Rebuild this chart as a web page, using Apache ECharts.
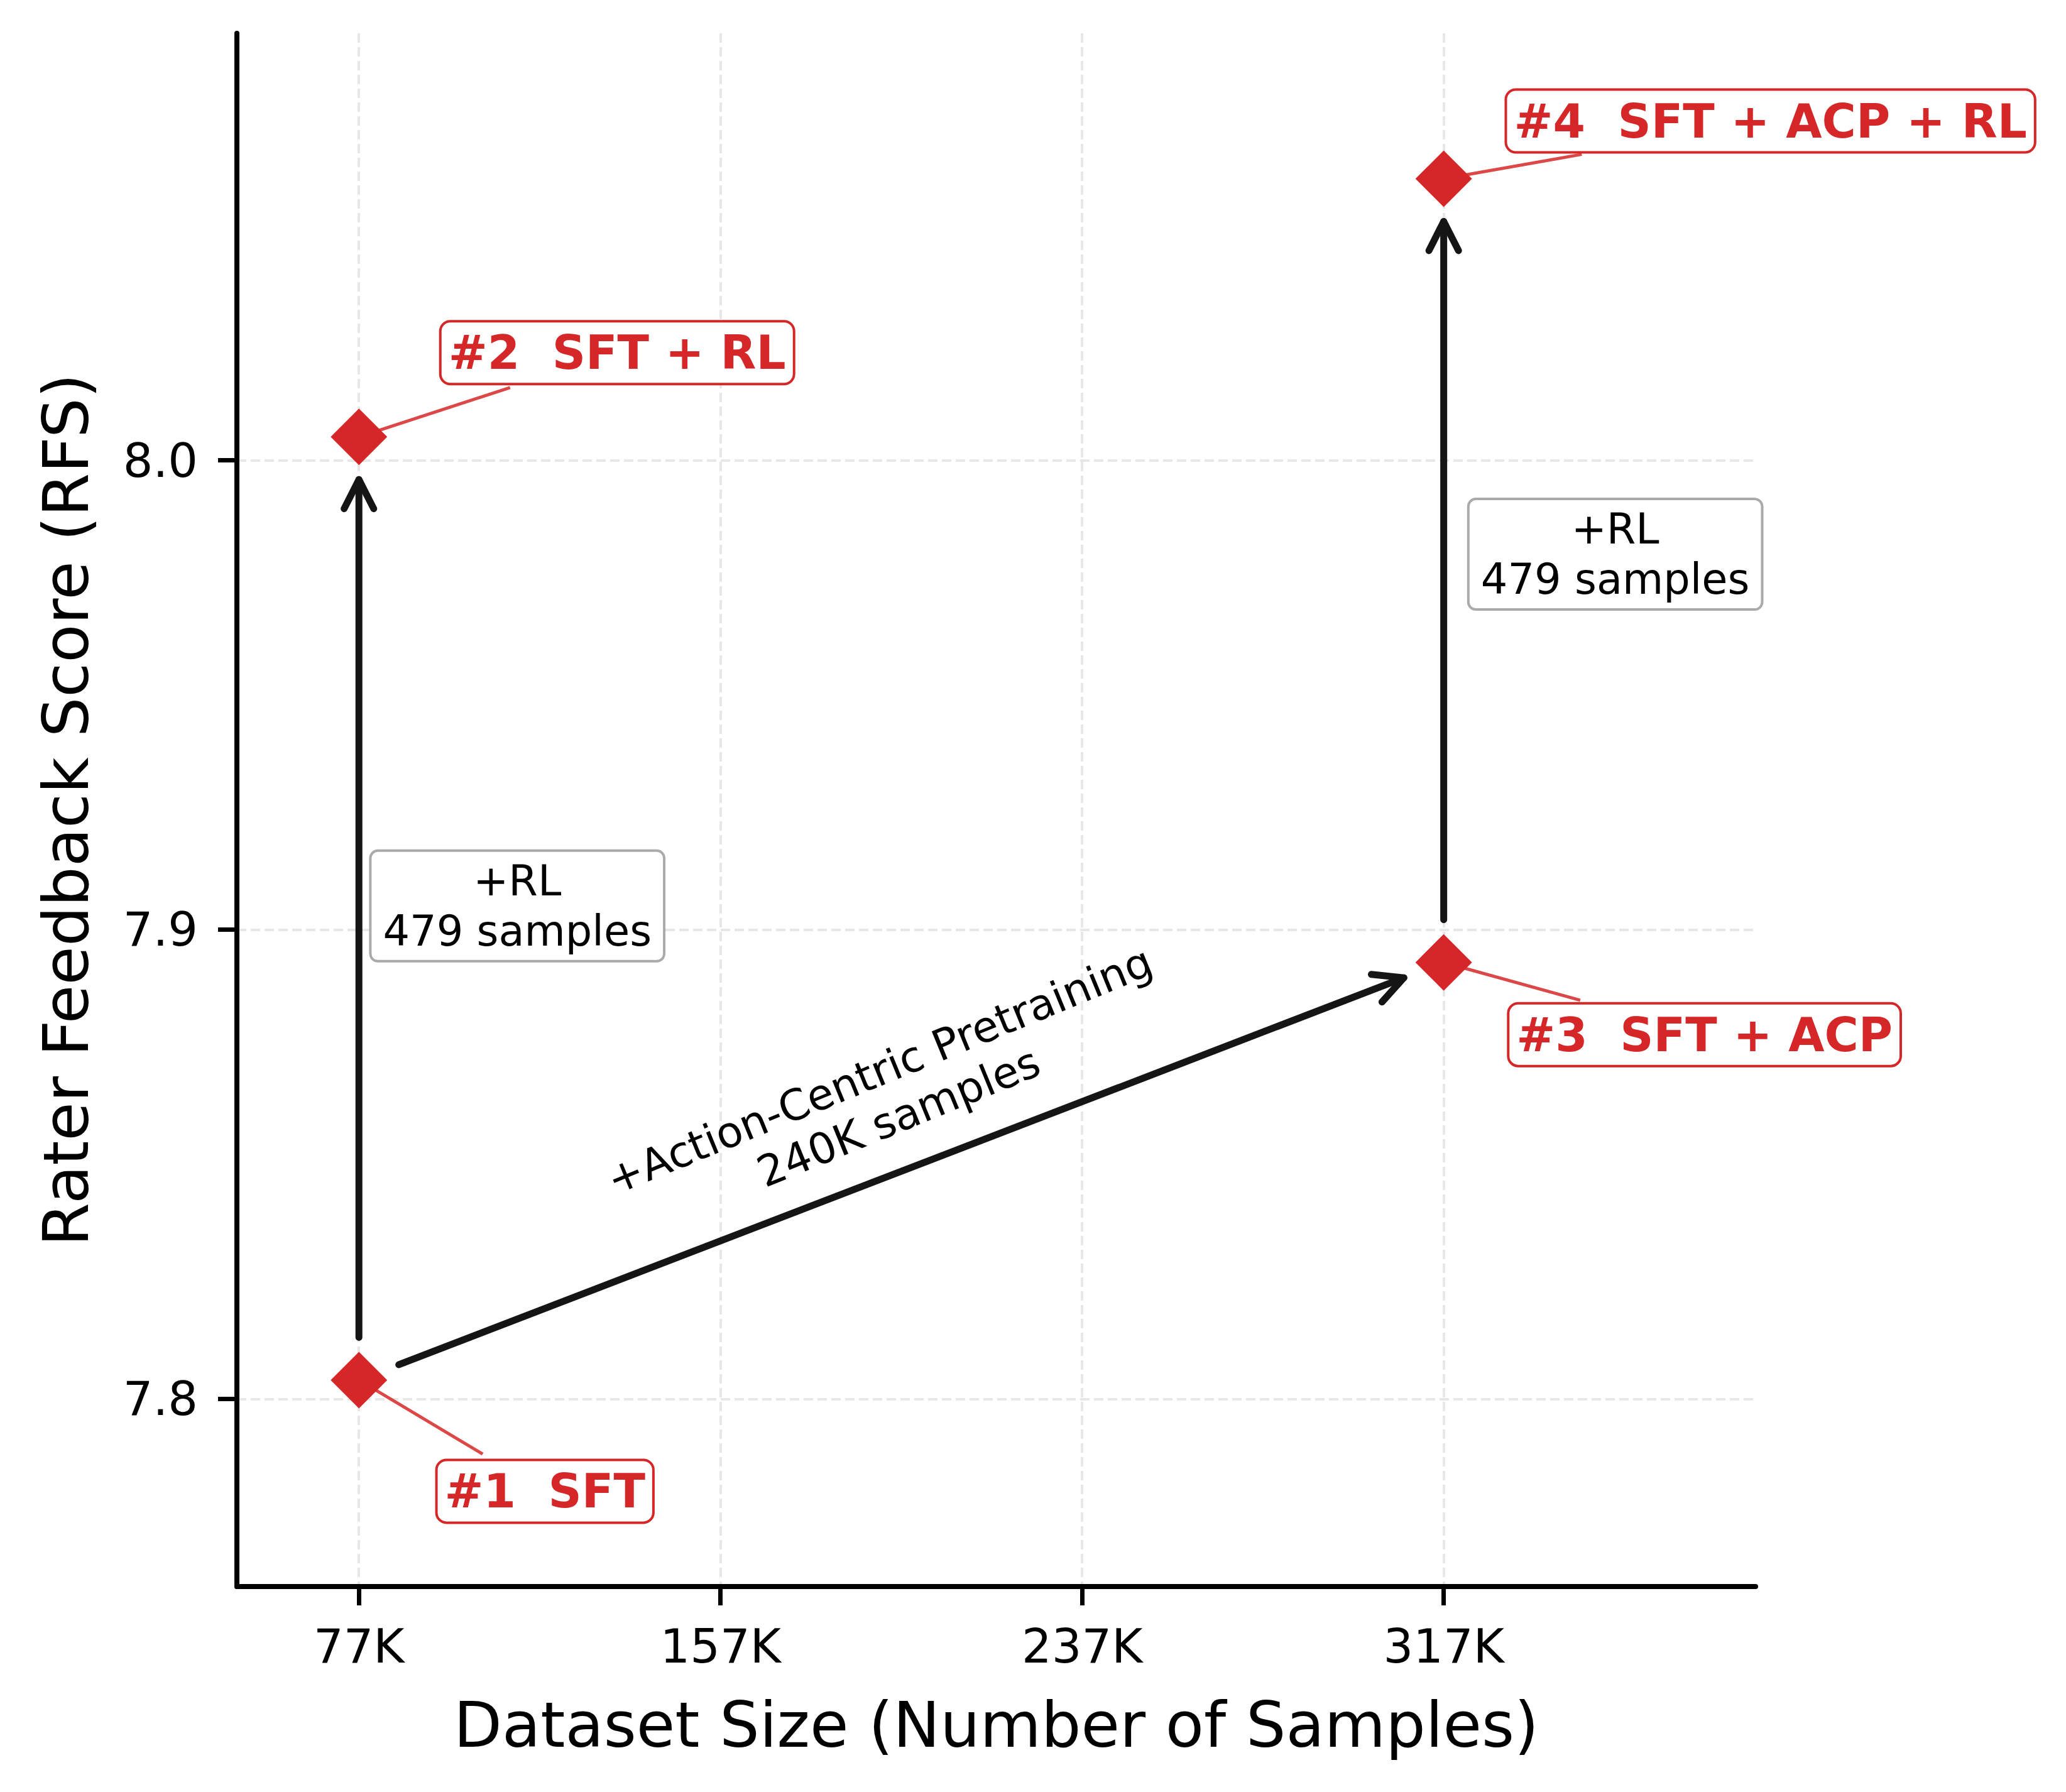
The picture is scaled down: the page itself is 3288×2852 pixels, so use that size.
<!DOCTYPE html>
<html>
<head>
<meta charset="utf-8">
<title>Rater Feedback Score vs Dataset Size</title>
<script src="https://cdn.jsdelivr.net/npm/echarts@6/dist/echarts.min.js"></script>
<style>
  html, body { margin: 0; padding: 0; background: #fff; overflow: hidden; }
  #chart { width: 3288px; height: 2852px; }
</style>
</head>
<body>
<div id="chart"></div>
<script>
// --- data ---
const stageNames = ["#1  SFT", "#2  SFT + RL", "#3  SFT + ACP", "#4  SFT + ACP + RL"];
const datasetSize = [77000, 77000, 317000, 317000];
const rfsScore = [7.804, 8.005, 7.893, 8.060];
const xTicks = [77000, 157000, 237000, 317000];
const yTicks = [7.8, 7.9, 8.0];
const arrowLinks = [[0, 1], [0, 2], [2, 3]];
const rlNote = "+RL\n479 samples";
const acpNote = "+Action-Centric Pretraining\n240K samples";

// --- look ---
const RED = "#d62728";
const INK = "#151515";
const FONT = "DejaVu Sans";
const labelOffsets = [[296, 177], [411, -134], [415, 115], [520, -92]];
const rlBoxOffsets = [[252, -4], [273, -26]];
const SHRINK = 68;
const HEAD = 52;
const HEAD_ANG = 0.47;

const chart = echarts.init(document.getElementById("chart"), null, { renderer: "svg" });

const gridLine = { show: true, lineStyle: { color: "#e7e7e7", width: 4, type: [15, 7] } };

chart.setOption({
  animation: false,
  backgroundColor: "#fff",
  textStyle: { fontFamily: FONT },
  grid: { left: 377, right: 494, top: 53, bottom: 327, outerBoundsMode: "none" },
  xAxis: {
    type: "value",
    min: 50000,
    max: 386000,
    name: "Dataset Size (Number of Samples)",
    nameLocation: "middle",
    nameGap: 170,
    nameMoveOverlap: false,
    nameTextStyle: { fontSize: 100, color: "#000", fontFamily: FONT },
    axisLine: { onZero: false, lineStyle: { color: "#000", width: 8 } },
    axisTick: { customValues: xTicks, length: 30, lineStyle: { color: "#000", width: 7 } },
    axisLabel: {
      customValues: xTicks,
      formatter: (v) => v / 1000 + "K",
      fontSize: 75,
      color: "#000",
      margin: 57,
    },
    splitLine: gridLine,
  },
  yAxis: {
    type: "value",
    min: 7.76,
    max: 8.091,
    name: "Rater Feedback Score (RFS)",
    nameLocation: "middle",
    nameGap: 222,
    nameMoveOverlap: false,
    nameTextStyle: { fontSize: 100, color: "#000", fontFamily: FONT },
    axisLine: { show: true, onZero: false, lineStyle: { color: "#000", width: 8 } },
    axisTick: { show: true, customValues: yTicks, length: 30, lineStyle: { color: "#000", width: 7 } },
    axisLabel: {
      customValues: yTicks,
      formatter: (v) => v.toFixed(1),
      fontSize: 75,
      color: "#000",
      margin: 62,
    },
    splitLine: gridLine,
  },
  series: [
    {
      type: "scatter",
      symbol: "diamond",
      symbolSize: 90,
      z: 3,
      itemStyle: { color: RED, opacity: 1 },
      label: {
        show: true,
        position: "inside",
        formatter: (p) => stageNames[p.dataIndex],
        color: RED,
        fontWeight: "bold",
        fontSize: 74,
        fontFamily: FONT,
        lineHeight: 84,
        backgroundColor: "#fff",
        borderColor: RED,
        borderWidth: 4,
        borderRadius: 14,
        padding: [6, 11],
      },
      data: datasetSize.map((x, i) => ({
        value: [x, rfsScore[i]],
        label: { offset: labelOffsets[i] },
      })),
    },
  ],
});

// pixel positions of the points, through the chart's own axes
const P = rfsScore.map((y, i) => chart.convertToPixel({ gridIndex: 0 }, [datasetSize[i], y]));

const elements = [];

// red leader lines, box center -> point, stopped short of the box
const ctx = document.createElement("canvas").getContext("2d");
ctx.font = "bold 74px 'DejaVu Sans'";
stageNames.forEach((name, i) => {
  const m = P[i];
  const c = [m[0] + labelOffsets[i][0], m[1] + labelOffsets[i][1]];
  const hw = ctx.measureText(name).width / 2 + 11 + 2;
  const hh = 84 / 2 + 6 + 2;
  const dx = m[0] - c[0], dy = m[1] - c[1];
  const len = Math.hypot(dx, dy);
  const t = Math.min(hw / Math.abs(dx), hh / Math.abs(dy));
  const ex = c[0] + dx * t + (dx / len) * 18;
  const ey = c[1] + dy * t + (dy / len) * 18;
  elements.push({
    type: "line",
    z: 1,
    shape: { x1: m[0], y1: m[1], x2: ex, y2: ey },
    style: { stroke: RED, opacity: 0.85, lineWidth: 5 },
  });
});

// black arrows with open heads
arrowLinks.forEach(([a, b]) => {
  const p0 = P[a], p1 = P[b];
  const dx = p1[0] - p0[0], dy = p1[1] - p0[1];
  const len = Math.hypot(dx, dy);
  const ux = dx / len, uy = dy / len;
  const s = [p0[0] + ux * SHRINK, p0[1] + uy * SHRINK];
  const e = [p1[0] - ux * SHRINK, p1[1] - uy * SHRINK];
  const ang = Math.atan2(uy, ux);
  const w1 = [e[0] - HEAD * Math.cos(ang - HEAD_ANG), e[1] - HEAD * Math.sin(ang - HEAD_ANG)];
  const w2 = [e[0] - HEAD * Math.cos(ang + HEAD_ANG), e[1] - HEAD * Math.sin(ang + HEAD_ANG)];
  elements.push({
    type: "line",
    shape: { x1: s[0], y1: s[1], x2: e[0], y2: e[1] },
    style: { stroke: INK, lineWidth: 11, lineCap: "round" },
  });
  elements.push({
    type: "polyline",
    shape: { points: [w1, e, w2] },
    style: { stroke: INK, fill: null, lineWidth: 11, lineCap: "round", lineJoin: "round" },
  });
});

// "+RL" boxes next to the vertical arrows
[[0, 1], [2, 3]].forEach(([a, b], k) => {
  const x = P[a][0] + rlBoxOffsets[k][0];
  const y = (P[a][1] + P[b][1]) / 2 + rlBoxOffsets[k][1];
  elements.push({
    type: "text",
    x: x,
    y: y,
    style: {
      text: rlNote,
      fontSize: 67,
      fontFamily: FONT,
      fill: "#000",
      lineHeight: 80,
      align: "center",
      verticalAlign: "middle",
      textAlign: "center",
      textVerticalAlign: "middle",
      backgroundColor: "#fff",
      borderColor: "#aaaaaa",
      borderWidth: 4,
      borderRadius: 10,
      padding: [6, 18],
    },
  });
});

// rotated caption along the diagonal arrow
{
  const p0 = P[0], p1 = P[2];
  const ang = Math.atan2(-(p1[1] - p0[1]), p1[0] - p0[0]);
  const ux = Math.cos(ang), uy = -Math.sin(ang);
  const nx = -Math.sin(ang), ny = -Math.cos(ang);
  const mx = (p0[0] + p1[0]) / 2, my = (p0[1] + p1[1]) / 2;
  elements.push({
    type: "text",
    x: mx + nx * 122 + ux * 26,
    y: my + ny * 122 + uy * 26,
    rotation: ang + 0.022,
    style: {
      text: acpNote,
      fontSize: 68,
      fontFamily: FONT,
      fill: "#000",
      lineHeight: 80,
      align: "center",
      verticalAlign: "middle",
      textAlign: "center",
      textVerticalAlign: "middle",
    },
  });
}

chart.setOption({ graphic: { elements: elements } });

window.addEventListener("resize", () => chart.resize());
</script>
</body>
</html>
